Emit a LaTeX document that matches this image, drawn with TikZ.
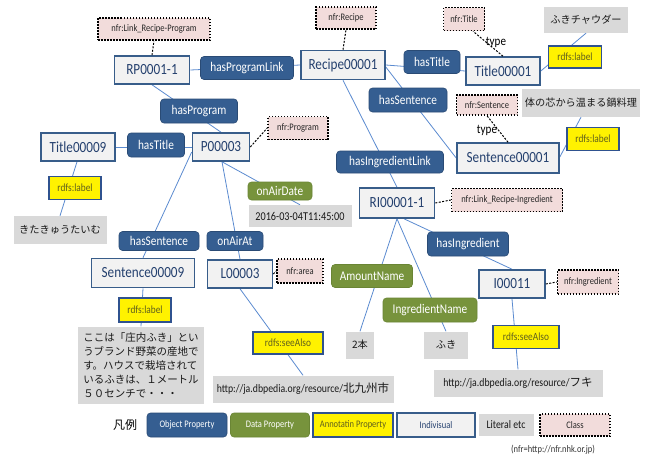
\documentclass[tikz,border=0pt]{standalone}
\usepackage{fontspec}
\setmainfont{Carlito}[FakeStretch=0.85]
\newfontfamily\jp{Noto Sans CJK JP}
\usetikzlibrary{backgrounds}
\definecolor{objc}{HTML}{355E91}
\definecolor{objd}{HTML}{2A4B75}
\definecolor{datac}{HTML}{77933C}
\definecolor{datad}{HTML}{6A8535}
\definecolor{annd}{HTML}{2F528F}
\definecolor{annt}{HTML}{5F5F1E}
\definecolor{indf}{HTML}{F2F2F2}
\definecolor{indd}{HTML}{385D8A}
\definecolor{indt}{HTML}{24406E}
\definecolor{litc}{HTML}{D9D9D9}
\definecolor{clsc}{HTML}{F2DCDB}
\definecolor{connc}{HTML}{5B8BD0}
\tikzset{
  x=1pt, y=-1pt,
  wh/.style 2 args={minimum width=#1pt, minimum height=#2pt},
  base/.style={inner sep=0pt, align=center},
  objp/.style={base, fill=objc, draw=objd, line width=0.6pt, rounded corners=3.5pt, text=white, font=\fontsize{13.3}{15}\selectfont},
  datap/.style={base, fill=datac, draw=datad, line width=0.6pt, rounded corners=3.5pt, text=white, font=\fontsize{13.3}{15}\selectfont},
  annp/.style={base, fill=yellow, draw=annd, line width=1.6pt, text=annt, font=\fontsize{11}{13}\selectfont},
  indiv/.style={base, fill=indf, draw=indd, line width=1.6pt, text=indt, font=\fontsize{15.5}{17}\selectfont},
  lit/.style={base, fill=litc, text=black!90},
  cls/.style={base, fill=clsc, draw=black, line width=1.5pt, dash pattern=on 1.5pt off 1.5pt, text=black!85, font=\fontsize{10}{12}\selectfont},
  conn/.style={draw=connc, line width=0.8pt},
  typ/.style={draw=black, line width=1pt, dash pattern=on 2pt off 1.5pt},
  jpf/.style={font=\jp\fontsize{10.2}{12}\selectfont},
  urlf/.style={font=\fontsize{11.5}{13}\selectfont},
  legf/.style={font=\fontsize{10}{12}\selectfont},
}
\begin{document}
\begin{tikzpicture}
\useasboundingbox (0,0) rectangle (649,458);
% classes
\node[cls, wh={112}{22}] (cLRP) at (154,29) {nfr:Link\_Recipe-Program};
\node[cls, wh={60}{22}] (cRec) at (346,18) {nfr:Recipe};
\node[cls, wh={41}{23}] (cTit) at (464,19) {nfr:Title};
\node[cls, wh={61}{20}] (cSen) at (487,105) {nfr:Sentence};
\node[cls, wh={60}{23}] (cPro) at (298,128) {nfr:Program};
\node[cls, wh={46}{24}] (cAre) at (300,271) {nfr:area};
\node[cls, wh={111}{23}] (cLRI) at (507,200) {nfr:Link\_Recipe-Ingredient};
\node[cls, wh={61}{24}] (cIng) at (588,282) {nfr:Ingredient};
% individuals
\node[indiv, wh={75}{28}] (RP) at (152,70) {RP0001-1};
\node[indiv, wh={84}{29}] (Rec) at (343,65) {Recipe00001};
\node[indiv, wh={74}{28}] (T1) at (503,71) {Title00001};
\node[indiv, wh={102}{30}] (S1) at (508,158) {Sentence00001};
\node[indiv, wh={57}{28}] (P) at (221,147) {P00003};
\node[indiv, wh={74}{28}] (T9) at (78,147) {Title00009};
\node[indiv, wh={103}{29}] (S9) at (143,273) {Sentence00009};
\node[indiv, wh={65}{28}] (L) at (240,274) {L00003};
\node[indiv, wh={75}{30}] (RI) at (397,203) {RI00001-1};
\node[indiv, wh={66}{28}] (I) at (512,284) {I00011};
% object properties
\node[objp, wh={93}{23}] (hPL) at (247,68) {hasProgramLink};
\node[objp, wh={56}{23}] (hT1) at (432,62) {hasTitle};
\node[objp, wh={78}{24}] (hS1) at (408,100) {hasSentence};
\node[objp, wh={107}{22}] (hIL) at (390,162) {hasIngredientLink};
\node[objp, wh={77}{24}] (hP) at (199,111) {hasProgram};
\node[objp, wh={57}{24}] (hT9) at (156,145) {hasTitle};
\node[objp, wh={80}{19}] (hS9) at (159,241) {hasSentence};
\node[objp, wh={56}{19}] (oAA) at (235,241) {onAirAt};
\node[objp, wh={81}{24}] (hI) at (468,244) {hasIngredient};
% data properties
\node[datap, wh={64}{18}] (oAD) at (280,191) {onAirDate};
\node[datap, wh={81}{23}] (AN) at (372,276) {AmountName};
\node[datap, wh={94}{24}] (IN) at (430,310) {IngredientName};
% annotation properties
\node[annp, wh={53}{22}] (lT1) at (575,57) {rdfs:label};
\node[annp, wh={52}{23}] (lS1) at (593,139) {rdfs:label};
\node[annp, wh={52}{23}] (lT9) at (75,188) {rdfs:label};
\node[annp, wh={52}{24}] (lS9) at (145,310) {rdfs:label};
\node[annp, wh={70}{22}] (sL) at (288,343) {rdfs:seeAlso};
\node[annp, wh={66}{23}] (sI) at (526,337) {rdfs:seeAlso};
% literals
\node[lit, wh={84}{26}, jpf] (vT1) at (586,20) {ふきチャウダー};
\node[lit, wh={118}{28}, jpf] (vS1) at (581,103) {体の芯から温まる鍋料理};
\node[lit, wh={93}{28}, jpf] (vT9) at (60,230) {きたきゅうたいむ};
\node[lit, wh={103}{22}, font=\fontsize{12}{14}\selectfont] (vD) at (300,216) {2016-03-04T11:45:00};
\node[lit, wh={126}{77}, align=left, font=\jp\fontsize{10.5}{14}\selectfont] (vS9) at (141,365) {ここは「庄内ふき」とい\\うブランド野菜の産地で\\す。ハウスで栽培されて\\いるふきは、１メートル\\５０センチで・・・};
\node[lit, wh={181}{27}, urlf] (vL) at (303,389) {http://ja.dbpedia.org/resource/{\jp 北九州市}};
\node[lit, wh={28}{27}, jpf] (vA) at (360,345) {2本};
\node[lit, wh={44}{27}, jpf] (vN) at (446,345) {ふき};
\node[lit, wh={169}{27}, urlf] (vI) at (518,383) {http://ja.dbpedia.org/resource/{\jp フキ}};
% type labels
\node[font=\fontsize{13}{15}\selectfont, text=black, inner sep=0pt] (ty1) at (496,42) {type};
\node[font=\fontsize{13}{15}\selectfont, text=black, inner sep=0pt] (ty2) at (487,130) {type};
% legend
\node[font=\jp\fontsize{12}{14}\selectfont, text=black] (leg) at (125,425) {凡例};
\node[objp, wh={80}{24}, legf] (gO) at (187,425) {Object Property};
\node[datap, wh={79}{24}, legf] (gD) at (270,425) {Data Property};
\node[annp, wh={80}{24}, legf] (gA) at (353,425) {Annotatin Property};
\node[indiv, wh={78}{24}, legf] (gI) at (436,425) {Indivisual};
\node[lit, wh={55}{22}, font=\fontsize{11.5}{13}\selectfont] (gL) at (506,425) {Literal etc};
\node[cls, wh={70}{22}] (gC) at (575,425) {Class};
\node[font=\fontsize{10}{12}\selectfont, text=black!80, inner sep=0pt] (note) at (553,450) {(nfr=http://nfr.nhk.or.jp)};
% connectors
\begin{pgfonlayer}{background}
\fill[white] (0,0) rectangle (649,458);
\draw[conn] (RP.east) -- (Rec.west);
\draw[conn] (Rec.east) -- (T1.west);
\draw[conn] ([yshift=-2pt]Rec.east) -- (S1.west);
\draw[conn] (Rec.south) -- (RI.north);
\draw[conn] (RP.south) -- (P.north);
\draw[conn] (P.west) -- (T9.east);
\draw[conn] ([xshift=-1pt]T9.south) -- (vT9.north);
\draw[conn] ([yshift=-5pt]P.west) -- (S9.north);
\draw[conn] ([xshift=1pt]P.south) -- (L.north);
\draw[conn] ([xshift=1pt]P.south) -- (vD.north);
\draw[conn] (S9.south) -- (vS9.north);
\draw[conn] (L.south) -- (vL.north);
\draw[conn] (T1.east) -- (vT1.south);
\draw[conn] ([yshift=1pt]S1.east) -- (vS1.south);
\draw[conn] (RI.south) -- (vA.north);
\draw[conn] (RI.south) -- (vN.north);
\draw[conn] ([xshift=7pt]RI.south) -- (I.north);
\draw[conn] (I.south) -- (vI.north);
\end{pgfonlayer}
% class links
\draw[typ] (RP.north) -- (cLRP.south);
\draw[typ] (Rec.north) -- (cRec.south);
\draw[typ] (T1.north) -- ([xshift=9pt]cTit.south);
\draw[typ] (S1.north) -- (cSen.south);
\draw[typ] (P.east) -- (cPro.west);
\draw[typ] (L.east) -- (cAre.west);
\draw[typ] (RI.east) -- (cLRI.west);
\draw[typ] (I.east) -- (cIng.west);
\end{tikzpicture}
\end{document}
